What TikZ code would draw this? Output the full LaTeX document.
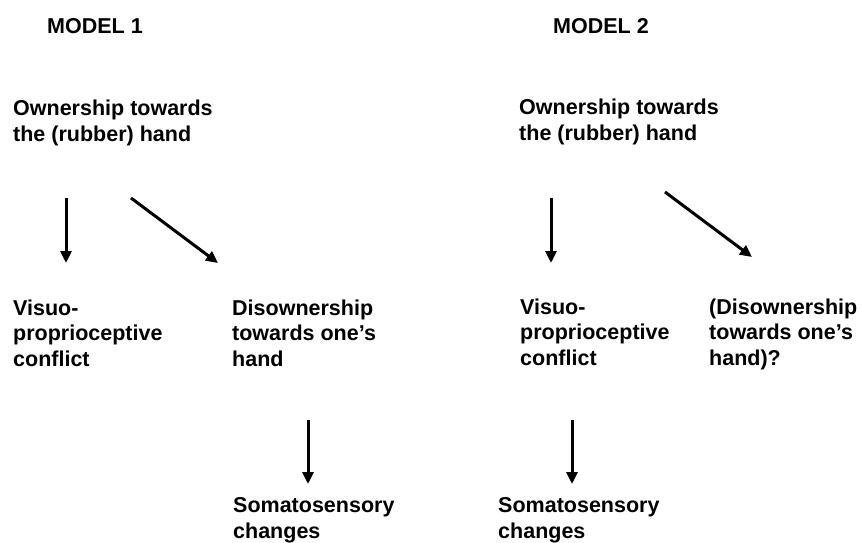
\documentclass[tikz,border=0pt]{standalone}
\usepackage{fontspec}
\setmainfont{Liberation Sans}
\usetikzlibrary{arrows.meta}
\begin{document}
\begin{tikzpicture}[x=1pt,y=-1pt,
	lbl/.style={anchor=base west,inner sep=0pt,align=left,
		font=\fontsize{21.5}{25.5}\selectfont\bfseries},
	arr/.style={-{Triangle[width=11pt,length=12pt]},line width=3pt}]
	\useasboundingbox (0,0) rectangle (862,542);

	% titles
	\node[lbl] (model1) at (47,33) {MODEL 1};
	\node[lbl] (model2) at (553,33) {MODEL 2};

	% model 1 (base = last line)
	\node[lbl] (own1) at (13,141) {Ownership towards\\the (rubber) hand};
	\node[lbl] (vis1) at (13,366) {Visuo-\\proprioceptive\\conflict};
	\node[lbl] (dis1) at (232,366) {Disownership\\towards one’s\\hand};
	\node[lbl] (som1) at (233,538) {Somatosensory\\changes};

	% model 2
	\node[lbl] (own2) at (519,140) {Ownership towards\\the (rubber) hand};
	\node[lbl] (vis2) at (520,365) {Visuo-\\proprioceptive\\conflict};
	\node[lbl] (dis2) at (709,365) {(Disownership\\towards one’s\\hand)?};
	\node[lbl] (som2) at (498,538) {Somatosensory\\changes};

	% arrows model 1
	\draw[arr] ([shift={(53,57)}]own1.base west) -- ([shift={(53,-103)}]vis1.base west);
	\draw[arr] ([shift={(118,57)}]own1.base west) -- ([shift={(-14,-103)}]dis1.base west);
	\draw[arr] ([shift={(76,54)}]dis1.base west) -- ([shift={(75,-54)}]som1.base west);

	% arrows model 2
	\draw[arr] ([shift={(32,58)}]own2.base west) -- ([shift={(31,-102)}]vis2.base west);
	\draw[arr] ([shift={(146,52)}]own2.base west) -- ([shift={(43,-108)}]dis2.base west);
	\draw[arr] ([shift={(52,55)}]vis2.base west) -- ([shift={(74,-54)}]som2.base west);

\end{tikzpicture}
\end{document}
